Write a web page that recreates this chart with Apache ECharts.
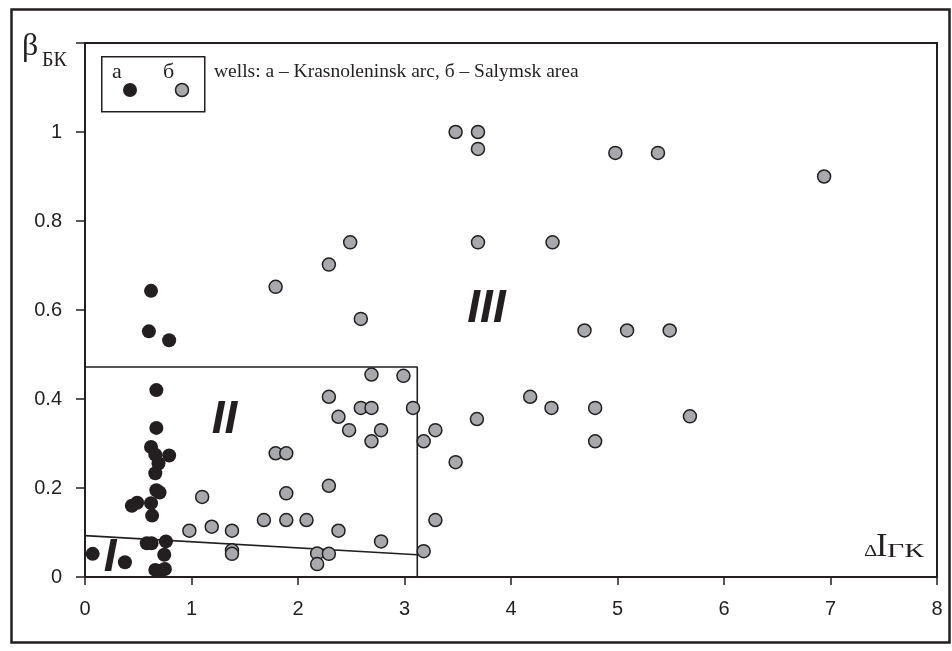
<!DOCTYPE html>
<html>
<head>
<meta charset="utf-8">
<script src="https://cdn.jsdelivr.net/npm/echarts@6/dist/echarts.min.js"></script>
<style>
  html, body { margin: 0; padding: 0; background: #fff; }
  #chart { width: 952px; height: 651px; }
</style>
</head>
<body>
<div id="chart"></div>
<script>
// wells a - Krasnoleninsk arc (black)
const wellsA = [
  [0.62, 0.643], [0.6, 0.552], [0.79, 0.532], [0.67, 0.42], [0.67, 0.335],
  [0.62, 0.292], [0.66, 0.275], [0.79, 0.273], [0.69, 0.255], [0.66, 0.233],
  [0.67, 0.195], [0.7, 0.19], [0.44, 0.16], [0.49, 0.167], [0.62, 0.166],
  [0.63, 0.138], [0.58, 0.076], [0.625, 0.076], [0.76, 0.08], [0.744, 0.05],
  [0.072, 0.052], [0.375, 0.033], [0.66, 0.016], [0.71, 0.014], [0.75, 0.018]
];
// wells б - Salymsk area (grey)
const wellsB = [
  [0.98, 0.104], [1.1, 0.18], [1.19, 0.113], [1.38, 0.104], [1.38, 0.06],
  [1.38, 0.052], [1.68, 0.128], [1.79, 0.278], [1.89, 0.278], [1.89, 0.188],
  [1.89, 0.128], [2.08, 0.128], [2.18, 0.053], [2.18, 0.029], [2.29, 0.052],
  [2.29, 0.205], [2.29, 0.405], [2.38, 0.36], [2.38, 0.104], [2.48, 0.33],
  [2.59, 0.38], [2.69, 0.38], [2.69, 0.455], [2.69, 0.305], [2.78, 0.33],
  [2.78, 0.08], [2.99, 0.452], [3.08, 0.38], [3.18, 0.305], [3.18, 0.058],
  [3.29, 0.33], [3.29, 0.128], [3.48, 0.258], [3.68, 0.355], [4.18, 0.405],
  [4.38, 0.38], [4.79, 0.38], [4.79, 0.305], [5.68, 0.361], [4.69, 0.554],
  [5.09, 0.554], [5.49, 0.554], [2.59, 0.58], [1.79, 0.652], [2.29, 0.702],
  [2.49, 0.752], [3.69, 0.752], [4.39, 0.752], [3.48, 1.0], [3.69, 1.0],
  [3.69, 0.962], [4.98, 0.953], [5.38, 0.953], [6.94, 0.9]
];
// region boundaries
const zone2Box = [[0, 0.472], [3.12, 0.472], [3.12, 0]];
const zone1Line = [[0, 0.093], [3.12, 0.05]];
// region labels (centre of each numeral)
const zoneNames = ['I', 'II', 'III'];
const zoneCoords = [[0.235, 0.043], [1.31, 0.351], [3.77, 0.601]];

const ink = '#231f20';
const chart = echarts.init(document.getElementById('chart'));

const option = {
  animation: false,
  grid: {
    left: 85, right: 15, top: 43, bottom: 74,
    show: true, borderColor: ink, borderWidth: 2, backgroundColor: 'transparent'
  },
  xAxis: {
    type: 'value', min: 0, max: 8, interval: 1,
    splitLine: { show: false },
    axisLine: { onZero: false, lineStyle: { color: ink, width: 2 } },
    axisTick: { length: 8, lineStyle: { color: ink, width: 1.5 } },
    axisLabel: { color: ink, fontSize: 20, fontFamily: 'Liberation Sans', margin: 22 }
  },
  yAxis: {
    type: 'value', min: 0, max: 1.2, interval: 0.2,
    splitLine: { show: false },
    axisLine: { onZero: false, lineStyle: { color: ink, width: 2 } },
    axisTick: { length: 9, lineStyle: { color: ink, width: 1.5 } },
    axisLabel: {
      color: ink, fontSize: 20, fontFamily: 'Liberation Sans', margin: 23,
      formatter: v => (v > 1.01 ? '' : String(+v.toFixed(1)))
    }
  },
  series: [
    {
      type: 'line', data: zone2Box, symbol: 'none', z: 1,
      lineStyle: { color: ink, width: 1.6 }
    },
    {
      type: 'line', data: zone1Line, symbol: 'none', z: 1,
      lineStyle: { color: ink, width: 1.6 }
    },
    {
      name: 'б', type: 'scatter', data: wellsB, symbol: 'circle', symbolSize: 13, z: 3,
      itemStyle: { color: '#a7a9ac', borderColor: ink, borderWidth: 1.5, opacity: 1 }
    },
    {
      name: 'а', type: 'scatter', data: wellsA, symbol: 'circle', symbolSize: 14, z: 4,
      itemStyle: { color: ink, opacity: 1 }
    }
  ],
  graphic: [
    // outer frame
    { id: 'frame', type: 'rect', left: 9, top: 7, shape: { width: 938, height: 633 },
      style: { fill: 'none', stroke: ink, lineWidth: 2.5 }, silent: true },
    // y axis name
    { id: 'yname1', type: 'text', left: 22, top: 31, style: { text: 'β', font: '32px "Liberation Serif"', fill: ink } },
    { id: 'yname2', type: 'text', left: 42, top: 51, style: { text: 'БК', font: '20px "Liberation Serif"', fill: ink } },
    // x axis name
    { id: 'xname1', type: 'text', left: 864, top: 544, scaleX: 1.3, style: { text: 'Δ', font: '16px "Liberation Serif"', fill: ink } },
    { id: 'xname2', type: 'text', left: 876, top: 530, style: { text: 'I', font: '34px "Liberation Serif"', fill: ink } },
    { id: 'xname3', type: 'text', left: 887, top: 543, scaleX: 1.65, style: { text: 'ГК', font: '18px "Liberation Serif"', fill: ink } },
    // legend
    { id: 'lgBox', type: 'rect', left: 101, top: 56, shape: { width: 103, height: 55 },
      style: { fill: '#fff', stroke: ink, lineWidth: 1.5 } },
    { id: 'lgA', type: 'text', left: 112, top: 61, style: { text: 'а', font: '22px "Liberation Serif"', fill: ink } },
    { id: 'lgB', type: 'text', left: 163, top: 61, style: { text: 'б', font: '22px "Liberation Serif"', fill: ink } },
    { id: 'lgDotA', type: 'circle', shape: { cx: 130, cy: 90, r: 7 }, style: { fill: ink } },
    { id: 'lgDotB', type: 'circle', shape: { cx: 182, cy: 90, r: 6.5 }, style: { fill: '#a7a9ac', stroke: ink, lineWidth: 1.5 } },
    { id: 'lgText', type: 'text', left: 214, top: 62,
      style: { text: 'wells: a – Krasnoleninsk arc, б – Salymsk area', font: '19.5px "Liberation Serif"', fill: ink } }
  ]
};
chart.setOption(option);

// roman numerals placed through the axis scales
const numerals = zoneNames.map((name, i) => {
  const p = chart.convertToPixel({ gridIndex: 0 }, zoneCoords[i]);
  return {
    id: 'zone' + name, type: 'text', x: p[0], y: p[1], z: 10,
    style: {
      text: name, font: 'italic bold 46px "Liberation Sans"', fill: ink,
      align: 'center', verticalAlign: 'middle'
    }
  };
});
chart.setOption({ graphic: option.graphic.concat(numerals) });
</script>
</body>
</html>
